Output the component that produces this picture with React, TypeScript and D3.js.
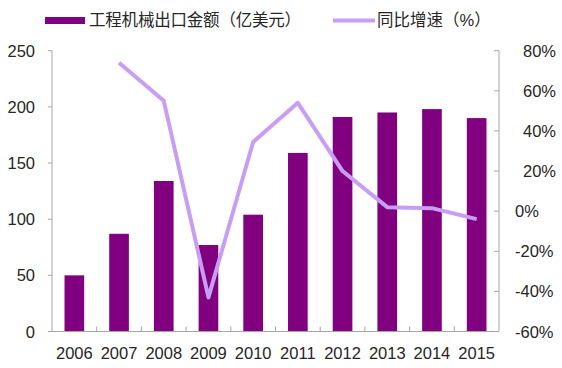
import React from "react";
import * as d3 from "d3";

const years = ["2006", "2007", "2008", "2009", "2010", "2011", "2012", "2013", "2014", "2015"];
const exportValues = [50, 87, 134, 77, 104, 159, 191, 195, 198, 190];
const growthYears = ["2007", "2008", "2009", "2010", "2011", "2012", "2013", "2014", "2015"];
const growthValues = [74, 55, -43, 34.5, 54, 20, 2, 1.5, -4];
const leftTicks = [0, 50, 100, 150, 200, 250];
const rightTicks = [-60, -40, -20, 0, 20, 40, 60, 80];
const barLabel = "工程机械出口金额（亿美元）";
const lineLabel = "同比增速（%）";

const W = 562;
const H = 368;
const m = { left: 52, right: 499, top: 50.7, bottom: 331.5 };
const FONT = "'Liberation Sans', 'Noto Sans CJK SC', sans-serif";
const BAR = "#800080";
const LINE = "#c89ef5";
const AXIS = "#a6a6a6";
const TEXT = "#262626";

export default function App() {
  const x = d3.scaleBand().domain(years).range([m.left, m.right]).paddingInner(0.56).paddingOuter(0.28);
  const xc = (d: string) => (x(d) as number) + x.bandwidth() / 2;
  const yL = d3.scaleLinear().domain([0, 250]).range([m.bottom, m.top]);
  const yR = d3.scaleLinear().domain([-60, 80]).range([m.bottom, m.top]);
  const step = (m.right - m.left) / years.length;
  const line = d3
    .line<number>()
    .x((_, i) => xc(growthYears[i]))
    .y((d) => yR(d));

  return (
    <svg width={W} height={H} style={{ position: "absolute", left: 0, top: 0, background: "#fff" }} fontFamily={FONT}>
      {/* legend */}
      <rect x={45} y={17} width={40} height={7} fill={BAR} />
      <text x={89} y={26} fontSize={16.5} fill={TEXT} letterSpacing={-0.2}>{barLabel}</text>
      <line x1={333} x2={375} y1={20.5} y2={20.5} stroke={LINE} strokeWidth={4} />
      <text x={377} y={26} fontSize={16.5} fill={TEXT}>{lineLabel}</text>

      {/* bars */}
      {years.map((yr, i) => (
        <rect key={yr} x={x(yr)} y={yL(exportValues[i])} width={x.bandwidth()} height={m.bottom - yL(exportValues[i])} fill={BAR} />
      ))}

      {/* left axis */}
      <line x1={m.left} x2={m.left} y1={m.top} y2={m.bottom} stroke={AXIS} strokeWidth={1} />
      {leftTicks.map((t) => (
        <g key={t}>
          <line x1={m.left - 4} x2={m.left} y1={yL(t)} y2={yL(t)} stroke={AXIS} />
          <text x={35} y={yL(t) + 6} fontSize={16.5} textAnchor="end" fill={TEXT}>{t}</text>
        </g>
      ))}

      {/* right axis */}
      <line x1={m.right} x2={m.right} y1={m.top} y2={m.bottom} stroke={AXIS} strokeWidth={1} />
      {rightTicks.map((t) => (
        <g key={t}>
          <line x1={m.right - 5} x2={m.right} y1={yR(t)} y2={yR(t)} stroke={AXIS} />
          <text x={t > 0 ? 523 : 515} y={yR(t) + 6} fontSize={16.5} fill={TEXT}>{t + "%"}</text>
        </g>
      ))}

      {/* x axis */}
      <line x1={m.left} x2={m.right} y1={m.bottom} y2={m.bottom} stroke={AXIS} />
      {years.map((yr, i) => (
        <g key={yr}>
          {i > 0 && <line x1={m.left + i * step} x2={m.left + i * step} y1={m.bottom - 5} y2={m.bottom} stroke={AXIS} />}
          <text x={xc(yr)} y={359} fontSize={16.5} textAnchor="middle" fill={TEXT}>{yr}</text>
        </g>
      ))}

      {/* line */}
      <path d={line(growthValues) || ""} fill="none" stroke={LINE} strokeWidth={4} strokeLinejoin="round" />
    </svg>
  );
}
